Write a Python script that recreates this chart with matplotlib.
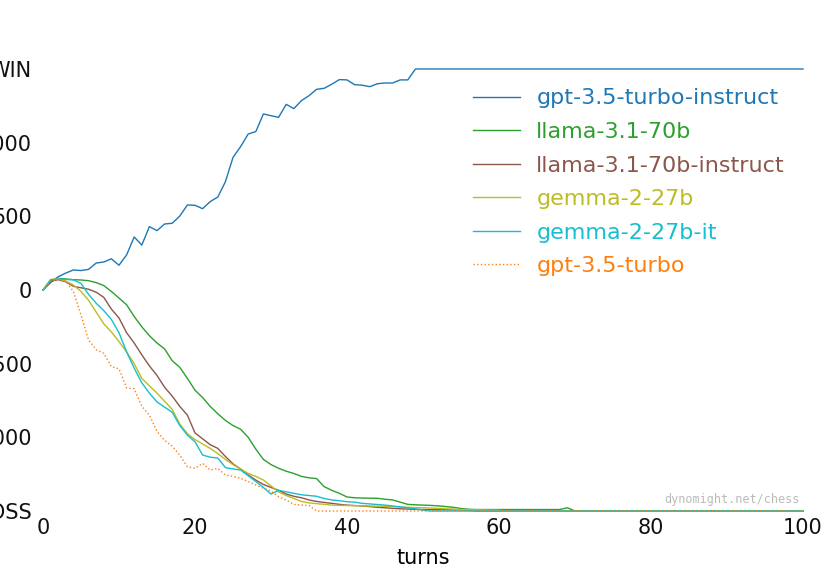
import matplotlib
matplotlib.use("Agg")
import matplotlib.pyplot as plt

# ---------------- data (score vs. turn) ----------------
labels = ["gpt-3.5-turbo-instruct", "llama-3.1-70b", "llama-3.1-70b-instruct",
          "gemma-2-27b", "gemma-2-27b-it", "gpt-3.5-turbo"]

gpt35_instruct = [0, 50, 90, 115, 136, 132, 140, 183, 190, 212, 168, 238, 360, 305, 430,
                  403, 448, 453, 502, 577, 575, 552, 600, 631, 735, 900, 973, 1059, 1075,
                  1195, 1183, 1172, 1260, 1231, 1285, 1319, 1362, 1369, 1397, 1428, 1426,
                  1394, 1390, 1380, 1400, 1405, 1405, 1426, 1426, 1500]
llama70b = [0, 60, 78, 75, 70, 68, 63, 50, 30, -10, -55, -100, -180, -250, -310, -360,
            -400, -480, -525, -600, -680, -730, -790, -840, -885, -920, -945, -1000, -1080,
            -1150, -1185, -1210, -1230, -1245, -1265, -1275, -1280, -1335, -1360, -1380,
            -1405, -1410, -1412, -1413, -1414, -1420, -1425, -1440, -1455, -1458, -1460,
            -1462, -1465, -1470, -1475, -1483, -1488, -1490, -1490, -1490, -1490, -1490,
            -1490, -1490, -1490, -1490, -1490, -1490, -1490, -1478, -1500]
llama70b_instruct = [0, 60, 70, 56, 25, 15, 5, -15, -50, -130, -190, -290, -360, -440,
                     -515, -580, -660, -720, -790, -850, -970, -1010, -1050, -1075, -1130,
                     -1180, -1215, -1255, -1290, -1320, -1340, -1360, -1385, -1400, -1410,
                     -1425, -1435, -1442, -1448, -1455, -1460, -1463, -1466, -1470, -1475,
                     -1478, -1482, -1485, -1487, -1489, -1490, -1490, -1491, -1491, -1492,
                     -1492, -1495, -1500]
gemma27b = [0, 70, 78, 60, 34, -10, -70, -150, -230, -285, -350, -420, -500, -600, -650,
            -700, -755, -810, -910, -975, -1015, -1045, -1075, -1110, -1150, -1185, -1215,
            -1245, -1265, -1290, -1330, -1370, -1395, -1415, -1435, -1445, -1450, -1455,
            -1460, -1462, -1463, -1464, -1465, -1466, -1467, -1468, -1470, -1473, -1475,
            -1477, -1478, -1480, -1482, -1485, -1487, -1490, -1491, -1492, -1493, -1494,
            -1495, -1500]
gemma27b_it = [0, 70, 75, 72, 68, 45, -30, -90, -140, -200, -290, -420, -530, -630, -700,
               -760, -795, -830, -920, -985, -1030, -1120, -1135, -1140, -1205, -1215,
               -1222, -1260, -1300, -1340, -1385, -1360, -1370, -1380, -1390, -1395, -1400,
               -1415, -1425, -1430, -1437, -1440, -1448, -1452, -1456, -1460, -1466, -1472,
               -1478, -1485, -1494, -1500]
gpt35_turbo = [0, 60, 73, 60, -10, -170, -340, -405, -430, -520, -535, -665, -670, -790,
               -850, -960, -1020, -1060, -1120, -1200, -1210, -1177, -1222, -1211, -1256,
               -1265, -1278, -1300, -1324, -1345, -1365, -1403, -1426, -1455, -1460, -1462,
               -1500]

series = [gpt35_instruct, llama70b, llama70b_instruct, gemma27b, gemma27b_it, gpt35_turbo]
colors = ["#1f77b4", "#2ca02c", "#8c564b", "#bcbd22", "#17becf", "#ff7f0e"]
styles = ["-", "-", "-", "-", "-", ":"]

last_turn = 100
x_ticks = [0, 20, 40, 60, 80, 100]
y_ticks = [-1500, -1000, -500, 0, 500, 1000, 1500]
y_ticklabels = ["LOSS", "-1000", "-500", "0", "500", "1000", "WIN"]

# ---------------- plot ----------------
plt.rcParams["font.family"] = ["DejaVu Sans"]
fig = plt.figure(figsize=(8.25, 5.75), dpi=100)
ax = fig.add_axes([43 / 825, 1 - 511 / 575, (803 - 43) / 825, (511 - 69) / 575])

handles = []
for vals, lab, col, ls in zip(series, labels, colors, styles):
    xs = list(range(len(vals))) + [last_turn]
    ys = list(vals) + [vals[-1]]
    h, = ax.plot(xs, ys, color=col, linestyle=ls, linewidth=1.0, label=lab, clip_on=False)
    handles.append(h)

ax.set_xlim(0, 100)
ax.set_ylim(-1500, 1500)
ax.set_xticks(x_ticks)
ax.set_yticks(y_ticks)
ax.set_yticklabels(y_ticklabels)
ax.tick_params(axis="y", length=0, labelsize=15, pad=8, colors="#111111")
ax.tick_params(axis="x", length=0, labelsize=15, pad=5, colors="#111111")
for s in ax.spines.values():
    s.set_visible(False)
ax.set_xlabel("turns", fontsize=15, labelpad=7)

leg = ax.legend(handles=handles, loc="upper left", bbox_to_anchor=(0.554, 0.976),
                frameon=False, fontsize=16, handlelength=2.1, handletextpad=0.75,
                labelspacing=0.61, borderaxespad=0)
for t, c in zip(leg.get_texts(), colors):
    t.set_color(c)

ax.text(0.995, 0.025, "dynomight.net/chess", transform=ax.transAxes, ha="right",
        va="center", fontsize=8.5, family="DejaVu Sans Mono", color="#bbbbbb")

fig.savefig("out.png", dpi=100)
